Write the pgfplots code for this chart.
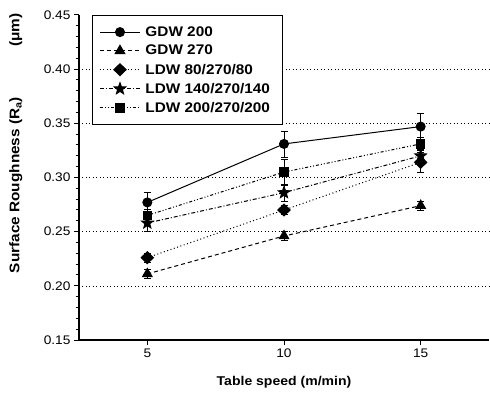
\documentclass[border=0pt]{standalone}
\usepackage{fontspec}
\setmainfont{Liberation Sans}[FakeStretch=1.1]
\usepackage{pgfplots}
\pgfplotsset{compat=1.18}
\pgfdeclareplotmark{fstar}{%
  \pgfpathmoveto{\pgfpointpolar{90}{\pgfplotmarksize}}%
  \pgfpathlineto{\pgfpointpolar{126}{0.42\pgfplotmarksize}}%
  \pgfpathlineto{\pgfpointpolar{162}{\pgfplotmarksize}}%
  \pgfpathlineto{\pgfpointpolar{198}{0.42\pgfplotmarksize}}%
  \pgfpathlineto{\pgfpointpolar{234}{\pgfplotmarksize}}%
  \pgfpathlineto{\pgfpointpolar{270}{0.42\pgfplotmarksize}}%
  \pgfpathlineto{\pgfpointpolar{306}{\pgfplotmarksize}}%
  \pgfpathlineto{\pgfpointpolar{342}{0.42\pgfplotmarksize}}%
  \pgfpathlineto{\pgfpointpolar{18}{\pgfplotmarksize}}%
  \pgfpathlineto{\pgfpointpolar{54}{0.42\pgfplotmarksize}}%
  \pgfpathclose
  \pgfusepathqfillstroke}
\begin{document}
\begin{tikzpicture}
\begin{axis}[
  scale only axis, width=410bp, height=325bp,
  xmin=2.5, xmax=17.5, ymin=0.15, ymax=0.45,
  axis x line=bottom, axis y line=left,
  axis line style={-, line width=1.5bp},
  xtick={5,10,15}, ytick={0.15,0.2,...,0.45},
  minor y tick num=4,
  tick align=outside, major tick length=5bp, minor tick length=3bp,
  tick style={black, line width=1bp},
  y tick label style={/pgf/number format/.cd, fixed, fixed zerofill, precision=2, /tikz/.cd},
  /pgf/number format/assume math mode=true,
  tick label style={font=\fontsize{12.5}{14}\selectfont},
  extra y ticks={0.2,0.25,0.3,0.35,0.4}, extra y tick labels={},
  extra y tick style={grid=major, major tick length=0pt},
  grid style={black, line width=0.6bp, dash pattern=on 1bp off 2.5bp},
  xlabel={\bfseries Table speed (m/min)},
  xlabel style={at={(axis description cs:0.5,-0.129)}, anchor=center, font=\fontsize{12.8}{14}\selectfont},
  ylabel={\bfseries Surface Roughness (R\textsubscript{a})\hspace{50bp}(μm)},
  ylabel style={at={(axis description cs:-0.154,0.605)}, anchor=center, font=\fontsize{14}{15}\selectfont},
  legend style={at={(axis description cs:0.0317,1)}, anchor=north west, draw=black, line width=1bp,
    font=\fontsize{14}{16}\selectfont\bfseries, row sep=3.5bp, inner xsep=7bp, inner ysep=9bp,
    nodes={inner xsep=5bp}},
  legend cell align=left,
  legend image code/.code={\draw[mark repeat=2,mark phase=2,#1] plot coordinates {(0bp,0bp) (20bp,0bp) (40bp,0bp)};},
  error bars/error bar style={solid, line width=0.8bp},
  error bars/error mark options={rotate=90, mark size=3.5bp, line width=0.8bp},
]
\addplot[black, line width=1bp, solid, mark=*, mark size=4.5bp, mark options={solid, fill=black}, error bars/.cd, y dir=both, y explicit]
  coordinates {(5,0.277) +- (0,0.009) (10,0.331) +- (0,0.012) (15,0.347) +- (0,0.012)};
\addlegendentry{GDW 200}
\addplot[black, line width=1bp, dash pattern=on 4bp off 3bp, mark=triangle*, mark size=5.5bp, mark options={solid, fill=black}, error bars/.cd, y dir=both, y explicit]
  coordinates {(5,0.211) +- (0,0.004) (10,0.246) +- (0,0.004) (15,0.274) +- (0,0.004)};
\addlegendentry{GDW 270}
\addplot[black, line width=1bp, dash pattern=on 1bp off 2.5bp, mark=diamond*, mark size=6bp, mark options={solid, fill=black, xscale=1.35}, error bars/.cd, y dir=both, y explicit]
  coordinates {(5,0.226) +- (0,0.004) (10,0.270) +- (0,0.004) (15,0.314) +- (0,0.009)};
\addlegendentry{LDW 80/270/80}
\addplot[black, line width=1bp, dash pattern=on 4bp off 2bp on 1bp off 2bp, mark=fstar, mark size=6bp, mark options={solid, fill=black}, error bars/.cd, y dir=both, y explicit]
  coordinates {(5,0.258) +- (0,0.008) (10,0.286) +- (0,0.008) (15,0.320) +- (0,0.006)};
\addlegendentry{LDW 140/270/140}
\addplot[black, line width=1bp, dash pattern=on 3bp off 2bp on 1bp off 2bp on 1bp off 2bp, mark=square*, mark size=4.2bp, mark options={solid, fill=black}, error bars/.cd, y dir=both, y explicit]
  coordinates {(5,0.265) +- (0,0.006) (10,0.305) +- (0,0.012) (15,0.331) +- (0,0.006)};
\addlegendentry{LDW 200/270/200}
\end{axis}
\pgfresetboundingbox
\path[use as bounding box] (-79bp,-56bp) rectangle (411bp,340bp);
\end{tikzpicture}
\end{document}
